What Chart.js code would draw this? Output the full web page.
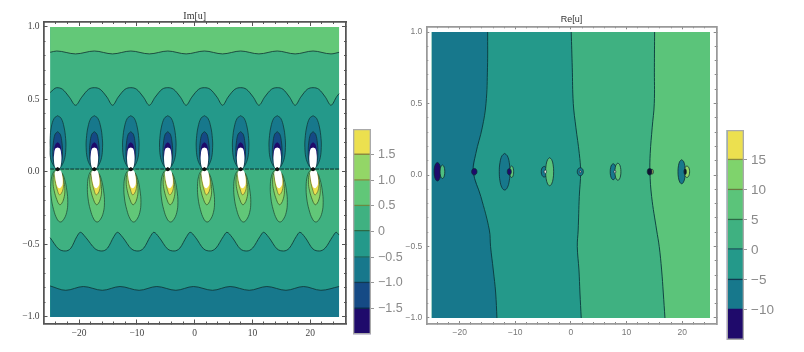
<!DOCTYPE html>
<html>
<head>
<meta charset="utf-8">
<script src="https://cdn.jsdelivr.net/npm/chart.js@4"></script>
<style>
    html, body { margin: 0; padding: 0; background: #fff; }
    canvas { position: absolute; top: 0; }
</style>
</head>
<body>
<canvas id="imChart" width="350" height="352" style="left:0"></canvas>
<canvas id="reChart" width="320" height="352" style="left:400px"></canvas>
<canvas id="imBar" width="70" height="352" style="left:345px"></canvas>
<canvas id="reBar" width="70" height="352" style="left:720px"></canvas>
<script>
// Axis ticks
const xTicks = [-20, -10, 0, 10, 20];
const xMinorTicks = [-24, -22, -18, -16, -14, -12, -8, -6, -4, -2, 2, 4, 6, 8, 12, 14, 16, 18, 22, 24];
const yTicks = [-1, -0.5, 0, 0.5, 1];
const yMinorTicks = [-0.9, -0.8, -0.7, -0.6, -0.4, -0.3, -0.2, -0.1, 0.1, 0.2, 0.3, 0.4, 0.6, 0.7, 0.8, 0.9];

// Colour levels
const imLevels = [-2, -1.5, -1, -0.5, 0, 0.5, 1, 1.5, 2];
const imBarTicks = [-1.5, -1, -0.5, 0, 0.5, 1, 1.5];
const imBarColors = ['#1f0a6b', '#154a85', '#17788c', '#24998a', '#3fb181', '#61c778', '#93d667', '#ece04f'];
const imBarLines = ['#1f0a6b', '#0a2a50', '#103a50', '#1f6a5f', '#2c6a45', '#6a8a40', '#8a8a3f', '#8a8a3f'];
const reLevels = [-15, -10, -5, 0, 5, 10, 15, 20];
const reBarTicks = [-10, -5, 0, 5, 10, 15];
const reBarColors = ['#1f0a6b', '#17788c', '#24998a', '#3fb181', '#5bc47a', '#7fd36c', '#ece04f'];
const reBarLines = ['#1f0a6b', '#1f0a6b', '#103a50', '#1f5a5f', '#2c6a45', '#6a7a40', '#8a8a3f'];

// Im[u]: wavy contours
const waveTopX = [-25, -23.86, -20.6, -17.35, -14.2, -11.04, -7.84, -4.64, -1.47, 1.7, 4.84, 7.97, 11.13, 14.3, 17.4, 20.5, 23.6, 25];
const waveTopY = [0.825, 0.834, 0.814, 0.834, 0.814, 0.834, 0.814, 0.834, 0.814, 0.834, 0.814, 0.834, 0.814, 0.834, 0.814, 0.834, 0.814, 0.825];
const waveMidX = [-25, -23.86, -22.86, -21.66, -20.6, -19.55, -18.35, -17.35, -16.35, -15.15, -14.2, -13.24, -12.04, -11.04, -10.04, -8.84, -7.84, -6.84, -5.64, -4.64, -3.64, -2.44, -1.47, -0.5, 0.7, 1.7, 2.7, 3.9, 4.84, 5.77, 6.97, 7.97, 8.97, 10.17, 11.13, 12.1, 13.3, 14.3, 15.3, 16.45, 17.4, 18.35, 19.5, 20.5, 21.5, 22.65, 23.6, 24.6, 25];
const waveMidY = [0.548, 0.581, 0.57, 0.515, 0.46, 0.515, 0.57, 0.581, 0.57, 0.515, 0.46, 0.515, 0.57, 0.581, 0.57, 0.515, 0.46, 0.515, 0.57, 0.581, 0.57, 0.515, 0.46, 0.515, 0.57, 0.581, 0.57, 0.515, 0.46, 0.515, 0.57, 0.581, 0.57, 0.515, 0.46, 0.515, 0.57, 0.581, 0.57, 0.515, 0.46, 0.515, 0.57, 0.581, 0.57, 0.515, 0.46, 0.52, 0.54];
const waveLowX = [-25, -23.55, -22.4, -21.4, -20.37, -19.77, -18.87, -17.21, -16.06, -15.06, -13.96, -13.36, -12.46, -10.95, -9.8, -8.8, -7.66, -7.06, -6.16, -4.7, -3.55, -2.55, -1.37, -0.77, 0.13, 1.55, 2.7, 3.7, 4.98, 5.58, 6.48, 7.89, 9.04, 10.04, 11.32, 11.92, 12.82, 14.25, 15.4, 16.4, 17.6, 18.2, 19.1, 20.45, 21.6, 22.6, 23.9, 24.5, 25];
const waveLowY = [-0.453, -0.53, -0.545, -0.525, -0.445, -0.416, -0.45, -0.53, -0.545, -0.525, -0.445, -0.416, -0.45, -0.53, -0.545, -0.525, -0.445, -0.416, -0.45, -0.53, -0.545, -0.525, -0.445, -0.416, -0.45, -0.53, -0.545, -0.525, -0.445, -0.416, -0.45, -0.53, -0.545, -0.525, -0.445, -0.416, -0.45, -0.53, -0.545, -0.525, -0.445, -0.416, -0.45, -0.53, -0.545, -0.525, -0.445, -0.416, -0.435];
const waveBottomX = [-25, -22.3, -19.25, -15.96, -12.9, -9.6, -6.55, -3.25, -0.2, 3.1, 6.15, 9.45, 12.5, 15.8, 18.85, 21.85, 25];
const waveBottomY = [-0.786, -0.816, -0.79, -0.816, -0.79, -0.816, -0.79, -0.816, -0.79, -0.816, -0.79, -0.816, -0.79, -0.816, -0.79, -0.816, -0.79];
const zeroLineX = [-25, 25];
const zeroLineY = [0.02, 0.02];

// Im[u]: pole positions and blob outlines around them (dx, y)
const poleX = [-23.7, -17.35, -11.04, -4.64, 1.7, 7.97, 14.3, 20.5];
const upOuterDx = [0, 0.6, 1.1, 1.38, 1.42, 1.25, 0.8, 0.3, -0.3, -0.8, -1.25, -1.42, -1.38, -1.1, -0.6, 0];
const upOuterY = [0.388, 0.37, 0.31, 0.23, 0.17, 0.1, 0.05, 0.025, 0.025, 0.05, 0.1, 0.17, 0.23, 0.31, 0.37, 0.388];
const upMidDx = [0, 0.45, 0.75, 0.84, 0.75, 0.4, -0.4, -0.75, -0.84, -0.75, -0.45, 0];
const upMidY = [0.278, 0.26, 0.2, 0.14, 0.08, 0.035, 0.035, 0.08, 0.14, 0.2, 0.26, 0.278];
const upInnerDx = [0, 0.4, 0.62, 0.62, 0, -0.62, -0.62, -0.4, 0];
const upInnerY = [0.205, 0.19, 0.15, 0.1, 0.08, 0.1, 0.15, 0.19, 0.205];
const upCoreDx = [0, 0.42, 0.62, 0.64, 0.5, 0.25, -0.25, -0.5, -0.64, -0.62, -0.42, 0];
const upCoreY = [0.168, 0.16, 0.12, 0.08, 0.04, 0.025, 0.025, 0.04, 0.08, 0.12, 0.16, 0.168];
const lowOuterDx = [0, 0.7, 1.2, 1.6, 1.75, 1.55, 1, 0.45, -0.1, -0.7, -1.1, -1.2, -1, -0.5, 0];
const lowOuterY = [0.015, -0.005, -0.05, -0.13, -0.21, -0.28, -0.33, -0.345, -0.325, -0.26, -0.18, -0.1, -0.03, 0.01, 0.015];
const lowMidDx = [0, 0.7, 1.1, 1.25, 1.05, 0.65, 0.3, -0.15, -0.6, -0.8, -0.6, 0];
const lowMidY = [0.01, -0.01, -0.07, -0.13, -0.185, -0.22, -0.225, -0.19, -0.13, -0.07, -0.01, 0.01];
const lowInnerDx = [0, 0.6, 1, 0.95, 0.6, 0.28, -0.05, -0.35, -0.5, -0.35, 0];
const lowInnerY = [0.005, -0.005, -0.06, -0.115, -0.15, -0.157, -0.125, -0.08, -0.03, 0.005, 0.005];
const lowCoreDx = [0, 0.55, 0.8, 0.88, 0.75, 0.32, -0.05, -0.28, -0.45, -0.48, 0];
const lowCoreY = [0.012, 0.008, -0.03, -0.067, -0.095, -0.112, -0.1, -0.07, -0.03, 0, 0.012];
const neckDx = [0, 0.4, 0, -0.4, 0];
const neckY = [0.035, 0.02, 0.005, 0.02, 0.035];

// Re[u]: near-vertical contours
const reLineY = [1, 0.75, 0.5, 0.33, 0.15, 0.02, -0.15, -0.385, -0.5, -0.664, -0.825, -1];
const reLineA = [-14.97, -15, -15.27, -15.95, -17.1, -17.55, -16.2, -14.67, -14.45, -13.96, -13.53, -13.3];
const reLineB = [0.05, 0.24, 0.42, 0.9, 1.5, 1.74, 1.5, 1.3, 1.14, 1.44, 1.62, 1.85];
const reLineC = [15.04, 15, 14.98, 14.6, 14.25, 14.2, 14.5, 15.4, 15.87, 16.3, 16.6, 16.9];

// Re[u]: small closed contours around the poles
const spotX = [-24, -23.1, -17.37, -11.92, -10.66, -11.08, -4.8, -3.83, -4.62, 1.68, 1.68, 7.6, 8.44, 7.9, 14.56, 14.14, 19.9, 20.85, 20.54];
const spotW = [0.6, 0.42, 0.48, 0.96, 0.36, 0.36, 0.54, 0.72, 0.2, 0.54, 0.15, 0.54, 0.54, 0.16, 0.25, 0.42, 0.66, 0.48, 0.2];
const spotH = [0.065, 0.047, 0.023, 0.128, 0.04, 0.022, 0.037, 0.098, 0.012, 0.028, 0.008, 0.056, 0.06, 0.01, 0.018, 0.023, 0.084, 0.04, 0.02];
const spotColors = ['#1f0a6b', '#4fbf80', '#1f0a6b', '#17788c', '#61c778', '#1f0a6b', '#17788c', '#5bc47a', '#ffffff', '#17788c', '#e8d0d8', '#17788c', '#61c778', '#ffffff', '#c8c860', '#111133', '#17788c', '#93d667', '#111122'];
const spotY = 0.023;
const unitX = [0, 0.5, 0.87, 1, 0.87, 0.5, 0, -0.5, -0.87, -1, -0.87, -0.5, 0];
const unitY = [1, 0.87, 0.5, 0, -0.5, -0.87, -1, -0.87, -0.5, 0, 0.5, 0.87, 1];

const pairs = (xs, ys) => xs.map((x, i) => ({ x, y: ys[i] }));
const CONTOUR = 'rgba(15, 50, 50, 0.8)';

function curve(points, color) {
    return {
        data: points, showLine: true, pointRadius: 0, tension: 0.4,
        borderColor: color, borderWidth: 1, fill: false
    };
}

function band(points, color, target) {
    const ds = curve(points, CONTOUR);
    ds.cubicInterpolationMode = 'monotone';
    ds.fill = { value: target };
    ds.backgroundColor = color;
    return ds;
}

function shape(points, color, line, tension) {
    return {
        data: points, showLine: true, pointRadius: 0, tension: tension,
        borderColor: line || 'transparent', borderWidth: line ? 0.9 : 0,
        fill: 'shape', backgroundColor: color
    };
}

function imDatasets() {
    const list = [
        shape(pairs([-25, 25, 25, -25, -25], [1, 1, -1, -1, 1]), '#3fb181', null, 0),
        band(pairs(waveMidX, waveMidY), '#24998a', 0.02),
        band(pairs(waveTopX, waveTopY), '#63c878', 1),
        band(pairs(waveLowX, waveLowY), '#24998a', -1),
        band(pairs(waveBottomX, waveBottomY), '#17788c', -1)
    ];
    const zero = curve(pairs(zeroLineX, zeroLineY), 'rgba(10, 40, 40, 0.95)');
    zero.borderDash = [4, 1];
    list.push(zero);
    const layers = [
        [upOuterDx, upOuterY, '#17788c', CONTOUR],
        [upMidDx, upMidY, '#154a85', CONTOUR],
        [upInnerDx, upInnerY, '#1f0a6b', null],
        [upCoreDx, upCoreY, '#ffffff', null],
        [lowOuterDx, lowOuterY, '#61c778', 'rgba(30, 70, 50, 0.8)'],
        [lowMidDx, lowMidY, '#93d667', 'rgba(50, 80, 40, 0.8)'],
        [lowInnerDx, lowInnerY, '#ece04f', 'rgba(90, 90, 40, 0.7)'],
        [lowCoreDx, lowCoreY, '#ffffff', null],
        [neckDx, neckY, '#111111', null]
    ];
    layers.forEach(([dx, ys, color, line]) => {
        poleX.forEach(cx => {
            const xs = dx.map(d => Math.max(-25, cx + d));
            list.push(shape(pairs(xs, ys), color, line, 0.4));
        });
    });
    return list.reverse();
}

function reDatasets() {
    const leftOf = xs => pairs([-25, ...xs, -25, -25], [1, ...reLineY, -1, 1]);
    const list = [
        shape(pairs([-25, 25, 25, -25, -25], [1, 1, -1, -1, 1]), '#5bc47a', null, 0),
        shape(leftOf(reLineC), '#3fb181', null, 0),
        shape(leftOf(reLineB), '#24998a', null, 0),
        shape(leftOf(reLineA), '#17788c', null, 0)
    ];
    [reLineA, reLineB, reLineC].forEach(xs => {
        list.push(curve(pairs(xs, reLineY), 'rgba(10, 55, 60, 0.9)'));
    });
    spotX.forEach((cx, i) => {
        const pts = unitX.map((u, k) => ({ x: cx + u * spotW[i], y: spotY + unitY[k] * spotH[i] }));
        list.push(shape(pts, spotColors[i], 'rgba(15, 40, 50, 0.85)', 0.4));
    });
    return list.reverse();
}

const dash = v => (v < 0 ? '\u2212' : '') + Math.abs(v);
const dashFixed = v => (v < 0 ? '\u2212' : '') + Math.abs(v).toFixed(1);

// One frame side: ticks point inward through a negative tick length
function frameAxis(st, position, range, ticks, len, size, labels) {
    return {
        type: 'linear', position, min: range[0], max: range[1],
        weight: labels ? 1 : 0,
        afterBuildTicks: s => { s.ticks = ticks.map(value => ({ value })); },
        afterFit: s => {
            if (position === 'left' || position === 'right') s.width = size;
            else s.height = size;
        },
        ticks: {
            display: !!labels, callback: labels, autoSkip: false, maxRotation: 0, minRotation: 0,
            color: st.labelColor, font: st.font, padding: len + st.gap
        },
        grid: { drawOnChartArea: false, tickLength: -len, tickColor: st.tickColor, tickWidth: 1 },
        border: { display: labels !== undefined || size === 0, color: st.frameColor, width: st.frameWidth }
    };
}

function frameScales(st) {
    const { xRange, yRange, left, bottom } = st;
    const sides = {
        x: ['bottom', xRange, xTicks, st.major, bottom, v => dash(v)],
        xMinor: ['bottom', xRange, xMinorTicks, st.minor, 0],
        xTop: ['top', xRange, xTicks, st.major, 0],
        xTopMinor: ['top', xRange, xMinorTicks, st.minor, 0],
        y: ['left', yRange, yTicks, st.major, left, v => dashFixed(v)],
        yMinor: ['left', yRange, yMinorTicks, st.minor, 0],
        yRight: ['right', yRange, yTicks, st.major, 0],
        yRightMinor: ['right', yRange, yMinorTicks, st.minor, 0]
    };
    const scales = {};
    Object.keys(sides).forEach(id => {
        const [pos, range, ticks, len, size, labels] = sides[id];
        scales[id] = frameAxis(st, pos, range, ticks, len, size, labels);
    });
    return scales;
}

new Chart(document.getElementById('imChart'), {
    type: 'scatter',
    data: { datasets: imDatasets() },
    options: {
        responsive: false, animation: false,
        layout: { padding: { right: 4 } },
        plugins: {
            legend: { display: false }, tooltip: { enabled: false },
            title: {
                display: true, text: 'Im[u]', fullSize: false, color: '#333',
                font: { family: '"Liberation Serif"', size: 10, weight: 'normal' },
                padding: { top: 10, bottom: 0 }
            }
        },
        scales: frameScales({
            xRange: [-26.15, 26.2], yRange: [-1.045, 1.034], left: 43.5, bottom: 28.5,
            major: 4, minor: 2, gap: 4,
            labelColor: '#444', tickColor: '#555', frameColor: '#555', frameWidth: 1.5,
            font: { family: '"Liberation Serif"', size: 9.5 }
        })
    }
});

new Chart(document.getElementById('reChart'), {
    type: 'scatter',
    data: { datasets: reDatasets() },
    options: {
        responsive: false, animation: false,
        layout: { padding: { right: 3.3 } },
        plugins: {
            legend: { display: false }, tooltip: { enabled: false },
            title: {
                display: true, text: 'Re[u]', fullSize: false, color: '#333',
                font: { family: '"Liberation Sans"', size: 9, weight: 'normal' },
                padding: { top: 14.5, bottom: 1 }
            }
        },
        scales: frameScales({
            xRange: [-26, 26.2], yRange: [-1.042, 1.04], left: 26.3, bottom: 28,
            major: 3, minor: 2, gap: 4,
            labelColor: '#777', tickColor: '#888', frameColor: '#999', frameWidth: 1.5,
            font: { family: '"Liberation Sans"', size: 8.5 }
        })
    }
});

// Colour bars: each band runs from its level to the top, painted upward so no seams show
function colorBar(id, levels, colors, lines, ticks, format, fontSize, padding, axisWidth) {
    const top = levels[levels.length - 1];
    const bands = colors.map((color, i) => ({
        data: [[levels[i], top]],
        backgroundColor: color, borderColor: lines[i], borderSkipped: false,
        borderWidth: { top: 0, left: 0, right: 0, bottom: i === 0 ? 0 : 1.5 },
        grouped: false, barPercentage: 1, categoryPercentage: 1
    }));
    const outline = {
        data: [[levels[0], top]],
        backgroundColor: 'transparent', borderColor: '#aaa', borderWidth: 1, borderSkipped: false,
        grouped: false, barPercentage: 1, categoryPercentage: 1
    };
    new Chart(document.getElementById(id), {
        type: 'bar',
        data: { labels: [''], datasets: [outline, ...bands.reverse()] },
        options: {
            responsive: false, animation: false,
            layout: { padding },
            plugins: { legend: { display: false }, tooltip: { enabled: false } },
            scales: {
                x: { display: false },
                y: {
                    position: 'right', min: levels[0], max: top,
                    afterBuildTicks: s => { s.ticks = ticks.map(value => ({ value })); },
                    afterFit: s => { s.width = axisWidth; },
                    ticks: {
                        callback: format, autoSkip: false, padding: 4, color: '#8a8a8a',
                        font: { family: '"Liberation Sans"', size: fontSize }
                    },
                    grid: { drawOnChartArea: false, tickLength: 3, tickColor: '#999' },
                    border: { display: false }
                }
            }
        }
    });
}

colorBar('imBar', imLevels, imBarColors, imBarLines, imBarTicks,
    v => (v === 0 ? '0' : dashFixed(v)), 12.5,
    { left: 8, top: 129, bottom: 17.7 }, 44);
colorBar('reBar', reLevels, reBarColors, reBarLines, reBarTicks,
    v => dash(v), 13.5,
    { left: 6.7, top: 130, bottom: 12 }, 46);
</script>
</body>
</html>
